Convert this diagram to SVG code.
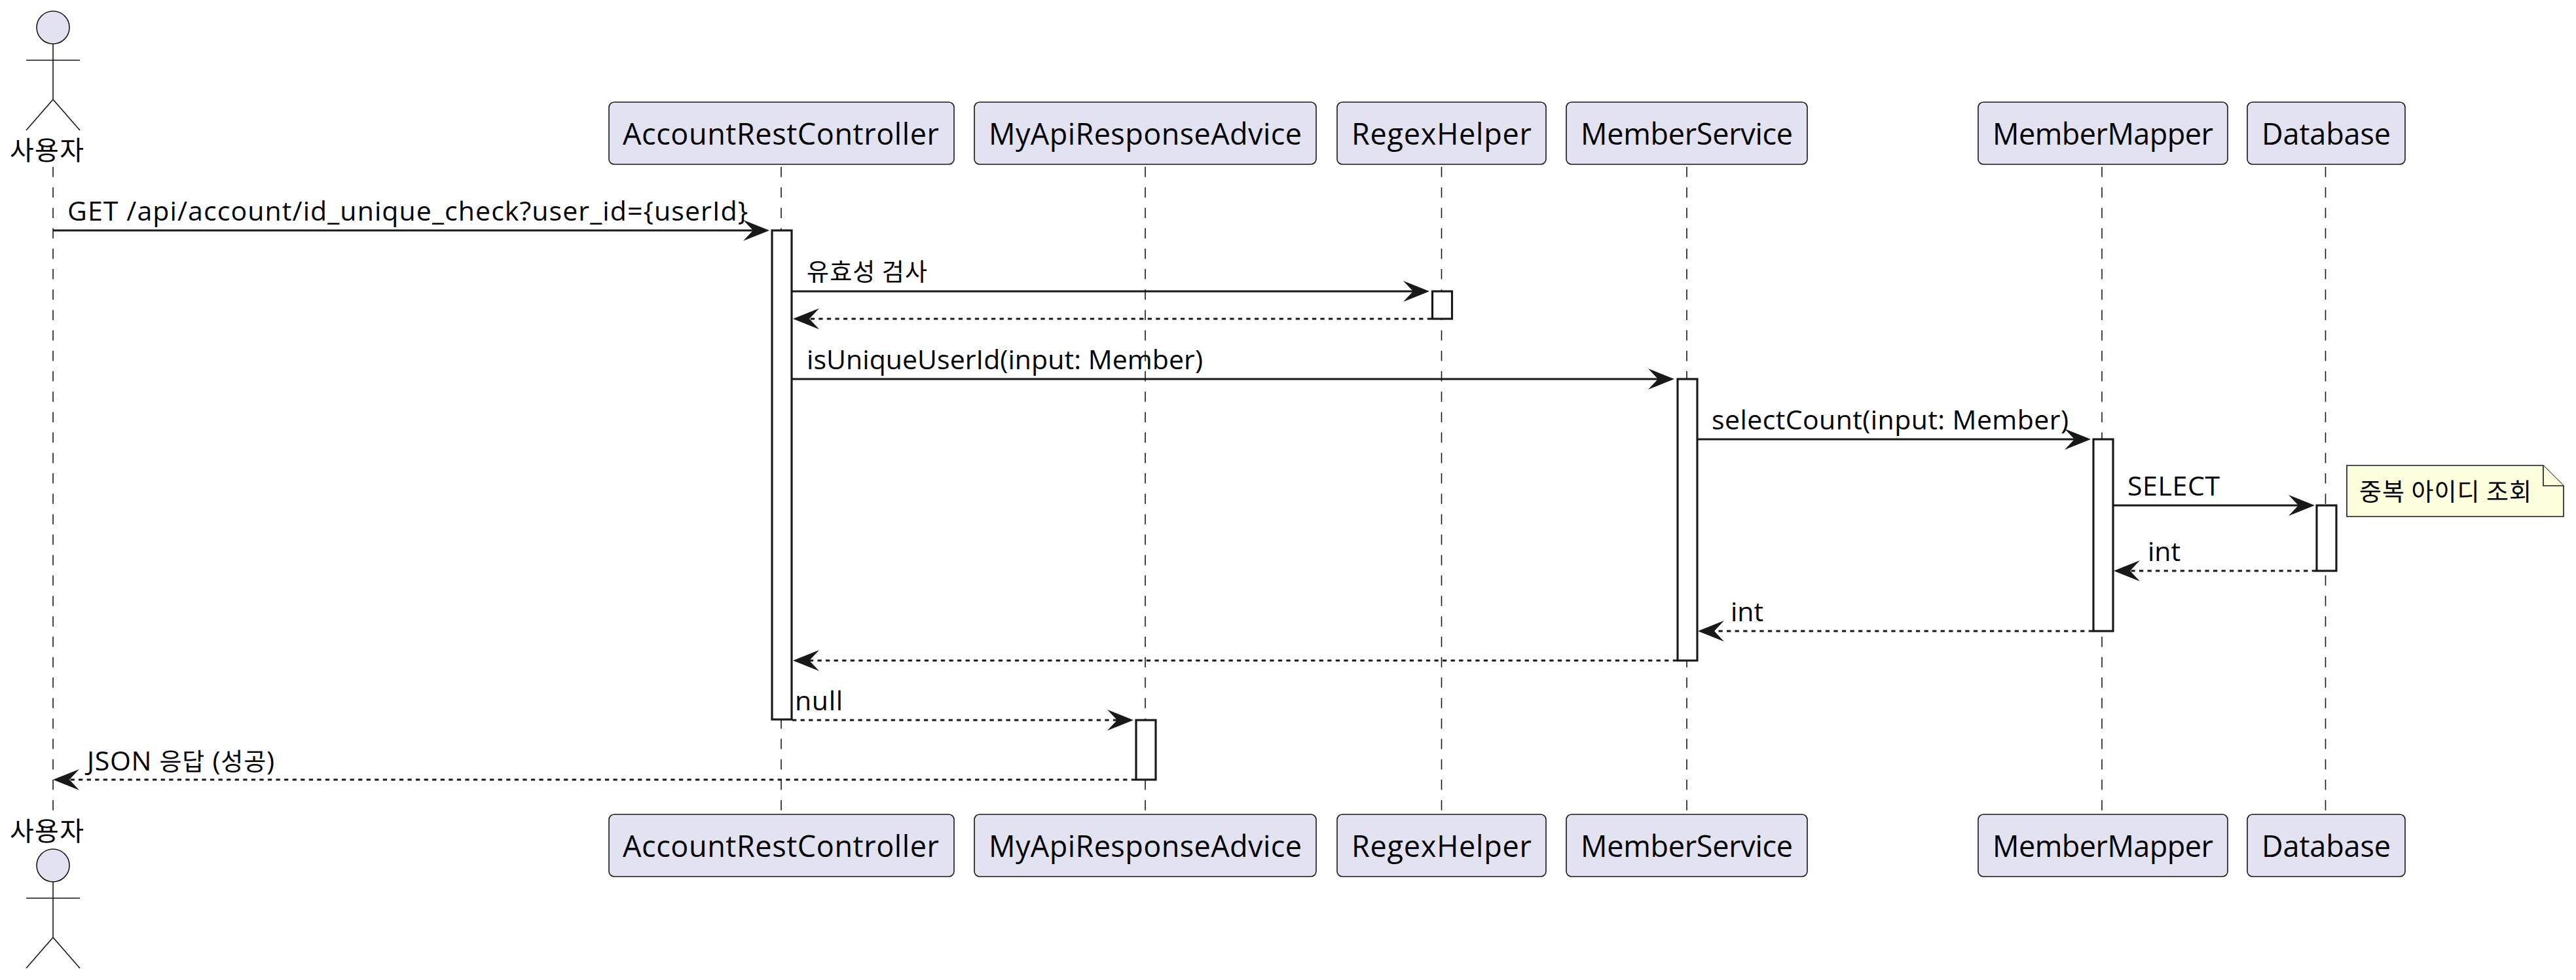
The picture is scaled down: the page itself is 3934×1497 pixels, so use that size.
<svg xmlns="http://www.w3.org/2000/svg" width="3934" height="1497" viewBox="0 0 3934 1497">
<style>
text{font-family:"Open Sans","Noto Sans CJK KR",sans-serif;fill:#000}
.p{font-size:45px}
.m{font-size:41px}
.k{font-family:"Noto Sans CJK KR",sans-serif;font-size:37px}
.ka{font-family:"Noto Sans CJK KR",sans-serif;font-size:40px}
.box{fill:#E2E2F0;stroke:#181818;stroke-width:1.6}
.body{fill:none;stroke:#181818;stroke-width:1.6}
.head{fill:#E2E2F0;stroke:#181818;stroke-width:1.6}
.life{stroke:#181818;stroke-width:1.6;stroke-dasharray:15.6 15.6;fill:none}
.act{fill:#fff;stroke:#181818;stroke-width:3.14}
.msg{stroke:#181818;stroke-width:3.14;fill:none;marker-end:url(#arrow)}
.ret{stroke-dasharray:6.28 6.28}
.note{fill:#FEFFDD;stroke:#181818;stroke-width:1.6}
</style>
<defs>
<marker id="arrow" markerUnits="userSpaceOnUse" markerWidth="42" markerHeight="34" refX="16" refY="17" orient="auto" overflow="visible"><path d="M0,1 L40,17 L0,33 L15,17 Z" fill="#181818"/></marker>
<g id="actorShape"><ellipse class="head" cx="0" cy="0" rx="25" ry="25"/><path class="body" d="M0,25 V110 M-41,50 H41 M-41,157 L0,110 L41,157"/></g>
</defs>
<rect width="3934" height="1497" fill="#fff"/>
<g id="lifelines">
<line class="life" x1="81" y1="255" x2="81" y2="1238"/>
<line class="life" x1="1193" y1="255" x2="1193" y2="1238"/>
<line class="life" x1="1749" y1="255" x2="1749" y2="1238"/>
<line class="life" x1="2201.5" y1="255" x2="2201.5" y2="1238"/>
<line class="life" x1="2576" y1="255" x2="2576" y2="1238"/>
<line class="life" x1="3210" y1="255" x2="3210" y2="1238"/>
<line class="life" x1="3551.5" y1="255" x2="3551.5" y2="1238"/>
</g>
<g id="n-user-top"><use href="#actorShape" x="81" y="42"/><text class="ka" x="15" y="244" textLength="113">사용자</text></g>
<g id="n-user-bottom"><text class="ka" x="15" y="1284" textLength="113">사용자</text><use href="#actorShape" x="81" y="1322"/></g>
<g id="n-account-top"><rect class="box" x="930" y="156" width="527" height="95" rx="8"/><text class="p" x="951" y="221" textLength="483">AccountRestController</text></g>
<g id="n-advice-top"><rect class="box" x="1488" y="156" width="522" height="95" rx="8"/><text class="p" x="1510" y="221" textLength="478">MyApiResponseAdvice</text></g>
<g id="n-regex-top"><rect class="box" x="2042" y="156" width="319" height="95" rx="8"/><text class="p" x="2064" y="221" textLength="275">RegexHelper</text></g>
<g id="n-service-top"><rect class="box" x="2392" y="156" width="368" height="95" rx="8"/><text class="p" x="2414" y="221" textLength="324">MemberService</text></g>
<g id="n-mapper-top"><rect class="box" x="3021" y="156" width="381" height="95" rx="8"/><text class="p" x="3043" y="221" textLength="337">MemberMapper</text></g>
<g id="n-db-top"><rect class="box" x="3432" y="156" width="241" height="95" rx="8"/><text class="p" x="3454" y="221" textLength="197">Database</text></g>
<g id="n-account-bottom"><rect class="box" x="930" y="1244" width="527" height="95" rx="8"/><text class="p" x="951" y="1309" textLength="483">AccountRestController</text></g>
<g id="n-advice-bottom"><rect class="box" x="1488" y="1244" width="522" height="95" rx="8"/><text class="p" x="1510" y="1309" textLength="478">MyApiResponseAdvice</text></g>
<g id="n-regex-bottom"><rect class="box" x="2042" y="1244" width="319" height="95" rx="8"/><text class="p" x="2064" y="1309" textLength="275">RegexHelper</text></g>
<g id="n-service-bottom"><rect class="box" x="2392" y="1244" width="368" height="95" rx="8"/><text class="p" x="2414" y="1309" textLength="324">MemberService</text></g>
<g id="n-mapper-bottom"><rect class="box" x="3021" y="1244" width="381" height="95" rx="8"/><text class="p" x="3043" y="1309" textLength="337">MemberMapper</text></g>
<g id="n-db-bottom"><rect class="box" x="3432" y="1244" width="241" height="95" rx="8"/><text class="p" x="3454" y="1309" textLength="197">Database</text></g>
<g id="activations">
<rect class="act" x="1179" y="352" width="30" height="747"/>
<rect class="act" x="1735" y="1100" width="30" height="91"/>
<rect class="act" x="2187.5" y="445" width="30" height="42"/>
<rect class="act" x="2562" y="579" width="30" height="430"/>
<rect class="act" x="3197" y="671" width="30" height="293"/>
<rect class="act" x="3538" y="772" width="30" height="100"/>
</g>
<g id="connectors">
<line class="msg" x1="81" y1="352" x2="1151" y2="352"/>
<line class="msg" x1="1210" y1="445" x2="2159" y2="445"/>
<line class="msg ret" x1="2186" y1="487" x2="1235" y2="487"/>
<line class="msg" x1="1210" y1="579" x2="2533" y2="579"/>
<line class="msg" x1="2593" y1="671" x2="3169" y2="671"/>
<line class="msg" x1="3228" y1="772" x2="3511" y2="772"/>
<line class="msg ret" x1="3537" y1="872" x2="3252" y2="872"/>
<line class="msg ret" x1="3196" y1="964" x2="2617" y2="964"/>
<line class="msg ret" x1="2561" y1="1009" x2="1235" y2="1009"/>
<line class="msg ret" x1="1210" y1="1100" x2="1707" y2="1100"/>
<line class="msg ret" x1="1734" y1="1191" x2="105" y2="1191"/>
</g>
<g id="labels">
<text class="m" x="103" y="337" textLength="1039">GET /api/account/id_unique_check?user_id={userId}</text>
<text class="k" x="1232" y="429" textLength="184">유효성 검사</text>
<text class="m" x="1232" y="564" textLength="605">isUniqueUserId(input: Member)</text>
<text class="m" x="2614" y="656" textLength="545">selectCount(input: Member)</text>
<text class="m" x="3249" y="757" textLength="141">SELECT</text>
<text class="m" x="3280" y="857" textLength="50">int</text>
<text class="m" x="2643" y="949" textLength="50">int</text>
<text class="m" x="1214" y="1085" textLength="73">null</text>
<text class="m" x="133" y="1177" textLength="286">JSON <tspan class="k">응답</tspan> (<tspan class="k">성공</tspan>)</text>
</g>
<g id="n-note">
<path class="note" d="M3584,711 H3884 L3915,742 V789 H3584 Z"/>
<path class="note" d="M3884,711 V742 H3915"/>
<text class="k" x="3603" y="765" textLength="263">중복 아이디 조회</text>
</g>
</svg>
